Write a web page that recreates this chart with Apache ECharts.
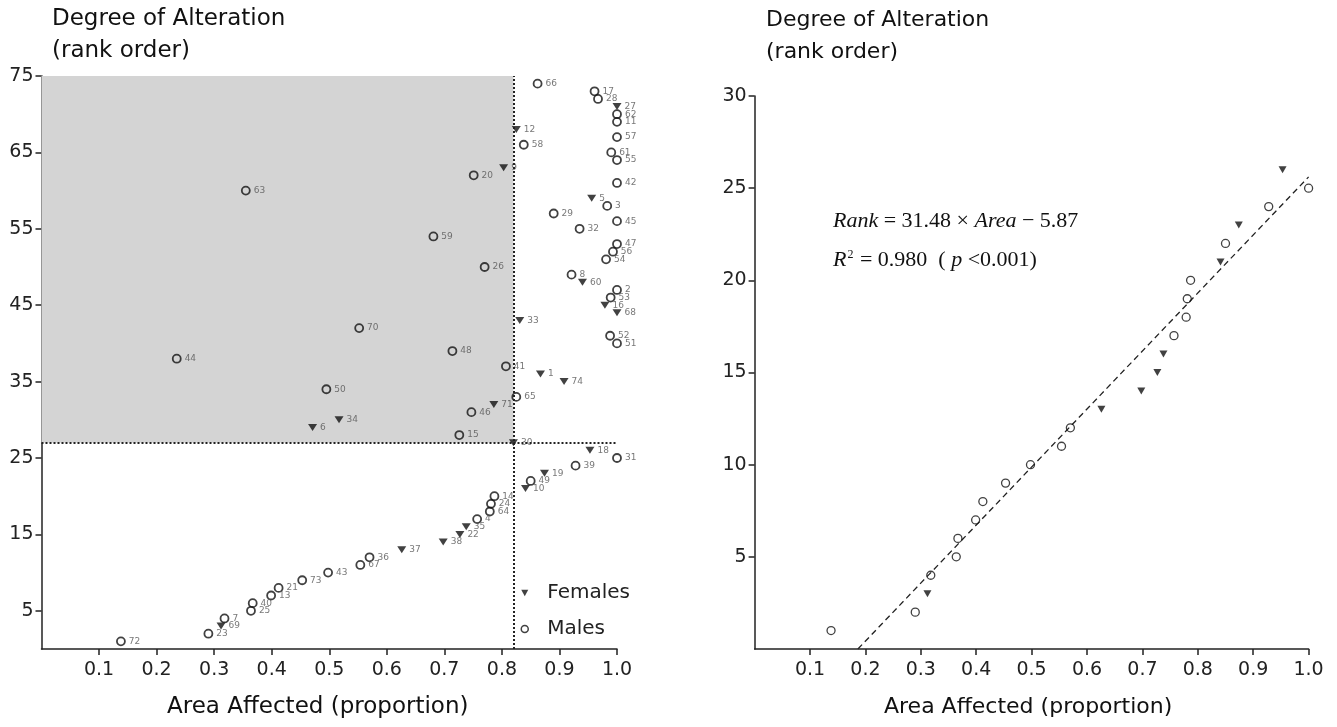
<!DOCTYPE html>
<html>
<head>
<meta charset="utf-8">
<script src="https://cdn.jsdelivr.net/npm/echarts@6/dist/echarts.min.js"></script>
<style>
  html,body{margin:0;padding:0;background:#fff;}
  #main{width:1337px;height:727px;}
</style>
</head>
<body>
<div id="main"></div>
<script>
// subjects in rank order (rank 1 = least altered)
const rank = [1,2,3,4,5,6,7,8,9,10,11,12,13,14,15,16,17,18,19,20,21,22,23,24,25,26,27,28,29,30,31,32,33,34,35,36,37,38,39,40,41,42,43,44,45,46,47,48,49,50,51,52,53,54,55,56,57,58,59,60,61,62,63,64,65,66,67,68,69,70,71,72,73,74];
const subjectId = [72,23,69,7,25,40,13,21,73,43,67,36,37,38,22,35,4,64,24,14,10,49,19,39,31,18,30,15,6,34,46,71,65,50,74,1,41,44,48,51,52,70,33,68,16,53,2,60,8,26,54,56,47,59,32,45,29,3,5,63,42,20,9,55,61,58,57,12,11,62,27,28,17,66];
const area = [0.138,0.290,0.312,0.318,0.364,0.367,0.399,0.412,0.453,0.498,0.554,0.570,0.626,0.698,0.727,0.738,0.757,0.779,0.781,0.787,0.841,0.850,0.874,0.928,1.0,0.953,0.820,0.726,0.471,0.517,0.747,0.786,0.825,0.495,0.908,0.867,0.807,0.235,0.714,1.0,0.988,0.552,0.831,1.0,0.979,0.989,1.0,0.940,0.921,0.770,0.981,0.993,1.0,0.681,0.935,1.0,0.890,0.983,0.956,0.355,1.0,0.751,0.803,1.0,0.990,0.838,1.0,0.825,1.0,1.0,1.0,0.967,0.961,0.862];
const sex = ['M','M','F','M','M','M','M','M','M','M','M','M','F','F','F','F','M','M','M','M','F','M','F','M','M','F','F','M','F','F','M','F','M','M','F','F','M','M','M','M','M','M','F','F','F','M','M','F','M','M','M','M','M','M','M','M','M','M','F','M','M','M','F','M','M','M','M','F','M','M','F','M','M','M'];

// shaded region / thresholds
const cutoffArea = 0.82;
const cutoffRank = 27;
// regression on ranks below the cutoff
const slope = 31.48;
const intercept = -5.87;

const xTicks = [0.1,0.2,0.3,0.4,0.5,0.6,0.7,0.8,0.9,1.0];
const yTicksLeft = [5,15,25,35,45,55,65,75];
const yTicksRight = [5,10,15,20,25,30];

function pts(s, onlyLow){
  const out = [];
  for (let i = 0; i < rank.length; i++){
    if (sex[i] !== s) continue;
    if (onlyLow && rank[i] >= cutoffRank) continue;
    out.push([area[i], rank[i], subjectId[i]]);
  }
  return out;
}

const axisColor = '#222';
const font = 'DejaVu Sans';
const downTri = 'path://M0,0L10,0L5,9Z';

function xAxis(gi){
  return {
    gridIndex: gi, type: 'value', min: 0, max: 1,
    splitLine: {show: false},
    axisLine: {onZero: false, lineStyle: {color: axisColor, width: 1.5}},
    axisTick: {customValues: xTicks, length: 6, lineStyle: {color: axisColor, width: 1.5}},
    axisLabel: {customValues: xTicks, margin: 12, fontSize: 19, fontFamily: font, color: '#222',
      formatter: v => v.toFixed(1)}
  };
}
function yAxis(gi, max, ticks){
  return {
    gridIndex: gi, type: 'value', min: 0, max: max,
    splitLine: {show: false},
    axisLine: {show: true, onZero: false, lineStyle: {color: axisColor, width: 1.5}},
    axisTick: {show: true, customValues: ticks, length: 6, lineStyle: {color: axisColor, width: 1.5}},
    axisLabel: {customValues: ticks, margin: 8, fontSize: 19, fontFamily: font, color: '#222'}
  };
}

const idLabel = {
  show: true, position: 'right', distance: 3,
  fontSize: 9, fontFamily: font, color: '#555',
  formatter: p => p.value[2]
};

let myChart = echarts.init(document.getElementById('main'));
myChart.setOption({
  animation: false,
  backgroundColor: '#fff',
  grid: [
    {left: 41.5, top: 76, width: 575.5, height: 573},
    {left: 754.6, top: 96, width: 554, height: 553}
  ],
  xAxis: [xAxis(0), xAxis(1)],
  yAxis: [yAxis(0, 75, yTicksLeft), yAxis(1, 30, yTicksRight)],
  legend: {
    data: [
      {name: 'Females', icon: downTri, itemStyle: {color: '#111'}},
      {name: 'Males', icon: 'circle', itemStyle: {color: 'rgba(0,0,0,0)', borderColor: '#111', borderWidth: 1.5}}
    ],
    orient: 'vertical',
    left: 515.5, top: 578,
    itemWidth: 7, itemHeight: 7, itemGap: 16,
    textStyle: {fontSize: 20, fontFamily: font, color: '#222', padding: [0, 0, 0, 14]}
  },
  graphic: [
    {type: 'text', left: 52, top: 8, style: {text: 'Degree of Alteration', font: '23px "DejaVu Sans"', fill: '#111'}},
    {type: 'text', left: 52, top: 40, style: {text: '(rank order)', font: '23px "DejaVu Sans"', fill: '#111'}},
    {type: 'text', left: 167, top: 696, style: {text: 'Area Affected (proportion)', font: '23px "DejaVu Sans"', fill: '#111'}},
    {type: 'text', left: 766, top: 9, style: {text: 'Degree of Alteration', font: '22px "DejaVu Sans"', fill: '#111'}},
    {type: 'text', left: 766, top: 41, style: {text: '(rank order)', font: '22px "DejaVu Sans"', fill: '#111'}},
    {type: 'text', left: 884, top: 696, style: {text: 'Area Affected (proportion)', font: '22px "DejaVu Sans"', fill: '#111'}},
    {type: 'text', left: 833, top: 210, style: {
      text: '{i|Rank} = 31.48 × {i|Area} − 5.87',
      font: '22px "Liberation Serif"', fill: '#111',
      rich: {i: {fontStyle: 'italic', fontSize: 22, fontFamily: 'Liberation Serif'}}
    }},
    {type: 'text', left: 833, top: 249, style: {
      text: '{i|R}{s|2} = 0.980  ( {i|p} <0.001)',
      font: '22px "Liberation Serif"', fill: '#111',
      rich: {
        i: {fontStyle: 'italic', fontSize: 22, fontFamily: 'Liberation Serif'},
        s: {fontSize: 12, fontFamily: 'Liberation Serif', verticalAlign: 'top', padding: [0, 1, 8, 1]}
      }
    }}
  ],
  series: [
    {
      // shading + threshold lines
      type: 'scatter', xAxisIndex: 0, yAxisIndex: 0, data: [], z: 1, silent: true,
      markArea: {
        silent: true,
        itemStyle: {color: '#d4d4d4'},
        data: [[{coord: [0, cutoffRank]}, {coord: [cutoffArea, 75]}]]
      },
      markLine: {
        silent: true, symbol: 'none', label: {show: false},
        lineStyle: {type: [2, 2], color: '#222', width: 2},
        data: [
          [{coord: [cutoffArea, 0]}, {coord: [cutoffArea, 75]}],
          [{coord: [0, cutoffRank]}, {coord: [1, cutoffRank]}]
        ]
      }
    },
    {
      name: 'Females', type: 'scatter', xAxisIndex: 0, yAxisIndex: 0, z: 3,
      symbol: 'triangle', symbolRotate: 180, symbolSize: [9, 7],
      itemStyle: {color: '#111'},
      label: idLabel,
      data: pts('F', false)
    },
    {
      name: 'Males', type: 'scatter', xAxisIndex: 0, yAxisIndex: 0, z: 3,
      symbol: 'circle', symbolSize: 8,
      itemStyle: {color: 'rgba(0,0,0,0)', borderColor: '#111', borderWidth: 1.8},
      label: idLabel,
      data: pts('M', false)
    },
    {
      type: 'line', xAxisIndex: 1, yAxisIndex: 1, z: 2, silent: true,
      showSymbol: false, symbol: 'none',
      lineStyle: {type: [6, 4], color: '#222', width: 1.3},
      data: [[-intercept / slope, 0], [1, slope + intercept]]
    },
    {
      name: 'Females', type: 'scatter', xAxisIndex: 1, yAxisIndex: 1, z: 3,
      symbol: 'triangle', symbolRotate: 180, symbolSize: [8, 7],
      itemStyle: {color: '#111'},
      data: pts('F', true)
    },
    {
      name: 'Males', type: 'scatter', xAxisIndex: 1, yAxisIndex: 1, z: 3,
      symbol: 'circle', symbolSize: 8,
      itemStyle: {color: 'rgba(0,0,0,0)', borderColor: '#111', borderWidth: 1.3},
      data: pts('M', true)
    }
  ]
});
</script>
</body>
</html>
